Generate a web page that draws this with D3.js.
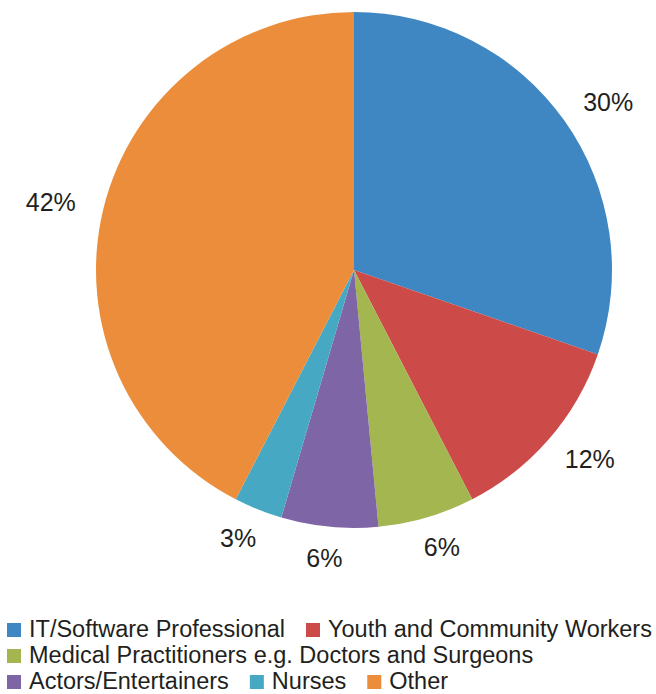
<!DOCTYPE html>
<html>
<head>
<meta charset="utf-8">
<script src="https://cdn.jsdelivr.net/npm/d3@7/dist/d3.min.js"></script>
<style>
  html, body { margin: 0; padding: 0; background: #ffffff; }
  svg { display: block; }
  text { font-family: "Liberation Sans", Arial, sans-serif; fill: #231f20; }
</style>
</head>
<body>
<svg id="chart" width="656" height="694"></svg>
<script>
// Occupation shares (percent)
const categories = [
  "IT/Software Professional",
  "Youth and Community Workers",
  "Medical Practitioners e.g. Doctors and Surgeons",
  "Actors/Entertainers",
  "Nurses",
  "Other"
];
const shares = [30, 12, 6, 6, 3, 42];
const sliceColors = ["#3e87c2", "#cc4a48", "#a4b64f", "#7e65a5", "#46a8c2", "#eb8d3a"];

// Legend rows (indices into categories)
const legendRows = [[0, 1], [2], [3, 4, 5]];

const cx = 354, cy = 270, radius = 258;
// Percentage labels sit on a slightly wide ellipse outside the pie
const labelRx = 312, labelRy = 289;

const svg = d3.select("#chart");

const data = categories.map((c, i) => ({ name: c, value: shares[i], color: sliceColors[i] }));

const pie = d3.pie().sort(null).value(d => d.value);
const arcs = pie(data);

const arc = d3.arc().innerRadius(0).outerRadius(radius);

const g = svg.append("g").attr("transform", `translate(${cx},${cy})`);

g.selectAll("path.slice")
  .data(arcs)
  .join("path")
  .attr("class", "slice")
  .attr("d", arc)
  .attr("fill", d => d.data.color);

g.selectAll("text.pct")
  .data(arcs)
  .join("text")
  .attr("class", "pct")
  .attr("transform", d => {
    const a = (d.startAngle + d.endAngle) / 2;
    return `translate(${Math.sin(a) * labelRx},${-Math.cos(a) * labelRy})`;
  })
  .attr("text-anchor", "middle")
  .attr("dy", "0.36em")
  .style("font-size", "25px")
  .text(d => d.data.value + "%");

// Legend
const legend = svg.append("g").attr("class", "legend");
const sw = 14, swGap = 8, itemGap = 21, x0 = 7, rowBase0 = 637, rowStep = 26;

legendRows.forEach((row, r) => {
  let x = x0;
  const base = rowBase0 + r * rowStep;
  row.forEach(idx => {
    const d = data[idx];
    legend.append("rect")
      .attr("x", x).attr("y", base - sw)
      .attr("width", sw).attr("height", sw)
      .attr("fill", d.color);
    const t = legend.append("text")
      .attr("x", x + sw + swGap).attr("y", base)
      .style("font-size", "23.5px")
      .text(d.name);
    x += sw + swGap + t.node().getComputedTextLength() + itemGap;
  });
});
</script>
</body>
</html>
